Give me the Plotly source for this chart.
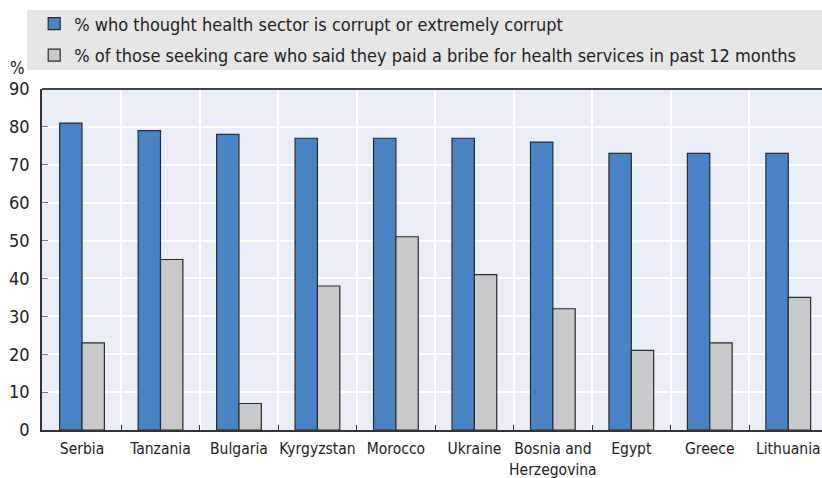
import plotly.graph_objects as go

countries = ["Serbia", "Tanzania", "Bulgaria", "Kyrgyzstan", "Morocco", "Ukraine",
             "Bosnia and<br>Herzegovina", "Egypt", "Greece", "Lithuania"]
corrupt = [81, 79, 78, 77, 77, 77, 76, 73, 73, 73]
bribe = [23, 45, 7, 38, 51, 41, 32, 21, 23, 35]

name_corrupt = "% who thought health sector is corrupt or extremely corrupt"
name_bribe = "% of those seeking care who said they paid a bribe for health services in past 12 months"

FONT = "Liberation Sans Narrow, Arial Narrow, DejaVu Sans Condensed, sans-serif"

fig = go.Figure()
fig.add_trace(go.Bar(
    x=countries, y=corrupt, name=name_corrupt, legendgroup="a",
    marker=dict(color="#4a83c4", line=dict(color="#2b2b2b", width=1.2)),
))
fig.add_trace(go.Bar(
    x=countries, y=bribe, name=name_bribe, legendgroup="b",
    marker=dict(color="#c8c9cb", line=dict(color="#2b2b2b", width=1.2)),
))

# grey band behind the legend
fig.add_shape(type="rect", xref="paper", yref="paper",
              x0=-0.019, x1=1.0, y0=1.056, y1=1.232,
              fillcolor="#e6e6e6", line=dict(width=0), layer="below")

fig.add_annotation(text="%", xref="paper", yref="paper", x=-0.031, y=1.062,
                   xanchor="center", yanchor="middle", showarrow=False,
                   font=dict(size=17, color="#222"))

fig.update_layout(
    width=822, height=478,
    margin=dict(l=42, r=0, t=89, b=48, autoexpand=False),
    paper_bgcolor="white",
    plot_bgcolor="#e9edf6",
    barmode="group",
    bargap=0.43,
    bargroupgap=0,
    font=dict(family=FONT, size=16, color="#222"),
    legend=dict(
        x=-0.01, y=1.245, xanchor="left", yanchor="top",
        orientation="v", bgcolor="rgba(0,0,0,0)",
        traceorder="grouped", tracegroupgap=5,
        font=dict(family=FONT, size=18, color="#222"),
    ),
    xaxis=dict(
        type="category", range=[-0.51, 9.43], automargin=False,
        tickson="boundaries", ticks="inside", ticklen=5, tickcolor="#333",
        showgrid=True, gridcolor="white", gridwidth=1.5,
        showline=True, linecolor="#333", linewidth=1.5,
        tickangle=0, tickfont=dict(size=15.5), ticklabelstandoff=4,
    ),
    yaxis=dict(
        range=[0, 90], dtick=10, automargin=False,
        ticks="inside", ticklen=6, tickcolor="#777",
        showgrid=True, gridcolor="white", gridwidth=1.5,
        showline=True, linecolor="#333", linewidth=1.5,
        mirror=False, zeroline=False,
        tickfont=dict(size=18), ticklabelstandoff=7,
    ),
)

# top border of the plot frame
fig.add_shape(type="line", xref="paper", yref="paper", x0=0, x1=1, y0=1, y1=1,
              line=dict(color="#444", width=2))

# drop the default 8px page margin so the figure fills the window
fig.write_html("out.html", config={"displayModeBar": False},
               post_script="document.body.style.margin='0';")
